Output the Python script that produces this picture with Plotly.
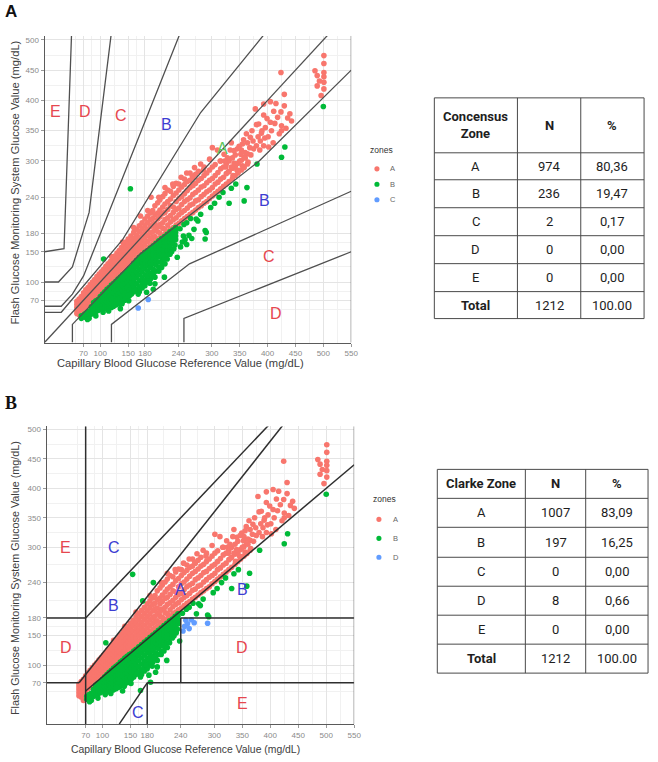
import plotly.graph_objects as go

W, H = 658, 762

# ---------------- data (mg/dL) ----------------
# Group key: first letter = Parkes (consensus) zone, second letter = Clarke zone
# Dense red band, read column by column: reference value -> measured values
AA_col_ref = [58, 62, 66, 70, 74, 78, 82, 86, 90, 94,
              98, 102, 106, 110, 114, 118, 122, 126, 130, 134,
              138, 142, 146, 150, 155, 160, 165, 170, 175, 180,
              185, 190, 194, 198, 203, 207, 212, 216, 221, 226,
              231, 236, 241, 246, 251, 256, 261, 266, 271, 276,
              281, 286, 291, 296, 301, 306, 311, 316, 321, 326,
              331, 337, 342, 347, 353, 358, 364]
AA_col_meas = [
    [48, 53, 58, 63, 68], [46, 51, 56, 61, 66, 72], [49, 54, 59, 64, 69, 76],
    [57, 62, 67, 72, 77, 82], [60, 65, 70, 76, 81, 87], [63, 68, 74, 80, 85, 91],
    [66, 72, 78, 84, 90, 96], [69, 75, 81, 88, 94, 100], [73, 79, 85, 92, 98, 104],
    [76, 82, 89, 95, 102, 109],
    [79, 86, 92, 99, 106, 113], [82, 89, 96, 103, 110, 117], [85, 92, 100, 107, 114, 121],
    [89, 96, 103, 111, 118, 126], [92, 99, 107, 115, 122, 130], [96, 103, 111, 119, 126, 134],
    [100, 107, 115, 123, 131, 139], [103, 111, 119, 127, 135, 143], [107, 115, 123, 131, 139, 148],
    [111, 119, 127, 135, 144, 152],
    [115, 123, 131, 140, 148, 157], [119, 127, 135, 144, 153, 161], [123, 131, 139, 148, 157, 166],
    [127, 135, 144, 153, 162, 171], [131, 140, 149, 158, 167, 176], [136, 145, 154, 163, 172, 182],
    [141, 150, 159, 168, 177, 187], [146, 155, 164, 173, 183, 193], [150, 159, 168, 178, 188, 198],
    [153, 163, 173, 183, 193, 204],
    [157, 167, 177, 187, 198, 209], [160, 171, 181, 192, 203, 214], [163, 174, 183, 195, 205, 218],
    [166, 175, 188, 197, 211, 226], [170, 183, 191, 204, 214, 231], [173, 181, 195, 208, 219, 236],
    [176, 189, 198, 213, 224, 241], [179, 187, 203, 215, 229, 246], [183, 194, 206, 220, 233, 252],
    [187, 199, 210, 226, 237, 250],
    [190, 203, 215, 224, 243, 258], [194, 206, 220, 233, 247, 263], [197, 211, 222, 238, 252, 262],
    [201, 215, 228, 241, 257], [205, 218, 233, 246, 261, 270], [208, 222, 236, 251, 266],
    [212, 227, 239, 256, 268, 280], [215, 229, 245, 259, 273], [219, 234, 248, 263, 278],
    [223, 236, 252, 268, 283],
    [226, 241, 257, 271], [230, 245, 259, 276, 290], [233, 249, 264, 280], [238, 252, 268, 285],
    [242, 256, 271, 290], [246, 262, 276, 294], [250, 265, 281], [254, 270, 287, 300],
    [258, 273, 290], [262, 279, 295],
    [266, 283, 300], [271, 288, 305], [276, 291, 310], [280, 296], [285, 301, 318],
    [289, 306], [295, 312, 330],
]
# Scattered red points
AA_ref_extra = [216, 245, 269, 296, 322, 352, 301, 230, 255, 280,
                310, 335, 340, 349, 355, 360, 369, 372, 378, 384,
                387, 390, 393, 393, 393, 399, 402, 405, 411, 424,
                424, 425, 425, 430, 430, 433, 443, 485, 489, 489,
                496, 501, 501, 501, 501, 501, 501, 493, 330, 335,
                340, 345, 350, 355, 360, 338, 348, 357, 365, 370,
                375, 380, 205, 185, 160, 140, 120, 315, 325, 285,
                265, 368, 374, 383, 389, 396, 401, 407, 413, 418,
                421, 436, 440, 415, 405, 380, 362, 357, 346, 333,
                328, 323, 410, 395, 386]
AA_meas_extra = [256, 273, 289, 303, 311, 311, 322, 262, 280, 295,
                 318, 330, 317, 324, 328, 314, 339, 350, 386, 361,
                 333, 350, 325, 376, 394, 370, 323, 364, 382, 381,
                 446, 350, 358, 391, 410, 354, 366, 449, 441, 424,
                 408, 474, 461, 446, 439, 430, 419, 432, 282, 290,
                 296, 285, 300, 292, 305, 276, 284, 290, 298, 310,
                 320, 325, 240, 218, 190, 166, 142, 300, 290, 285,
                 275, 322, 333, 340, 346, 355, 340, 350, 362, 372,
                 345, 371, 378, 395, 398, 360, 345, 335, 320, 318,
                 305, 300, 330, 338, 318]
AB_ref = [191, 172]
AB_meas = [240, 209]
BA_ref = [66, 66, 152, 160, 165, 170, 175, 180, 185, 190,
          195, 200, 205, 210, 215, 220, 225, 230, 235]
BA_meas = [40, 44, 122, 131, 136, 141, 145, 149, 152, 156,
           160, 164, 168, 172, 175, 179, 183, 186, 190]
# Dense green area, read column by column
BB_col_ref = [72, 76, 80, 84, 88, 92, 96, 100, 104, 108,
              112, 116, 120, 124, 128, 132, 136, 140, 144, 148,
              152, 156, 160, 165, 170, 175, 180, 185, 190, 195,
              200, 205, 210, 215, 220, 225, 230, 235]
BB_col_meas = [
    [42, 47], [44, 50], [40, 46, 52], [47, 53, 59], [49, 55, 61, 66],
    [51, 57, 63, 69], [53, 59, 65, 71], [55, 61, 67, 72, 76], [57, 63, 69, 75, 80],
    [59, 65, 71, 78, 84],
    [55, 61, 67, 74, 81, 88], [57, 63, 70, 77, 84, 91], [58, 65, 72, 79, 87, 95],
    [60, 67, 74, 82, 90, 98], [62, 69, 77, 85, 93, 101], [64, 71, 79, 88, 96, 105],
    [66, 74, 82, 91, 100, 108], [68, 76, 85, 94, 103, 112], [70, 79, 88, 97, 106, 115],
    [73, 82, 91, 100, 110, 118],
    [77, 86, 95, 104, 113, 120], [80, 89, 98, 107, 116, 124], [84, 93, 102, 111, 120, 127],
    [88, 97, 107, 116, 125, 131], [84, 92, 102, 112, 121, 130, 135],
    [90, 98, 107, 117, 126, 134, 139], [94, 103, 112, 122, 131, 138, 143],
    [100, 108, 118, 127, 135, 142, 147], [105, 115, 124, 132, 140, 147, 151],
    [112, 121, 130, 138, 145, 151, 155],
    [118, 128, 136, 143, 150, 156, 159], [124, 133, 142, 149, 155, 160, 163],
    [132, 140, 148, 155, 161, 167], [138, 146, 154, 160, 166, 171],
    [145, 152, 160, 166, 172, 175], [152, 159, 166, 172, 178], [164, 171, 177, 183],
    [170, 176, 182, 187],
]
BB_ref_extra = [77, 105, 92, 115, 125, 136, 139, 145, 151, 150,
                162, 168, 172, 178, 183, 185, 189, 195, 198, 198,
                205, 215, 216, 210, 192, 220, 225, 228, 232, 238,
                234, 243, 250, 255, 262, 268, 272, 275, 280, 288,
                290, 298, 305, 313, 320, 331, 335, 343, 358, 363,
                381, 425, 431, 500, 106, 154]
BB_meas_extra = [38, 50, 44, 52, 62, 56, 64, 72, 69, 78,
                 86, 80, 91, 100, 83, 110, 98, 88, 97, 108,
                 118, 108, 130, 124, 113, 138, 146, 150, 155, 141,
                 161, 188, 195, 198, 205, 187, 204, 201, 212, 185,
                 182, 223, 230, 240, 248, 230, 255, 262, 234, 256,
                 295, 306, 323, 390, 138, 254]
BD_ref = [244, 247, 249, 252, 255, 259, 264, 288]
BD_meas = [158, 166, 176, 170, 162, 177, 172, 171]
CB_ref = [168, 186]
CB_meas = [57, 71]

x_ticks = [70, 100, 150, 180, 240, 300, 350, 400, 450, 500, 550]
y_ticks = [70, 100, 150, 180, 240, 300, 350, 400, 450, 500]
minor_ticks = [55, 85, 125, 165, 210, 270, 325, 375, 425, 475, 525]
zone_colors = {"A": "#F8766D", "B": "#00BA38", "C": "#619CFF", "D": "#619CFF"}

# Parkes (consensus) type 1 error grid boundaries
parkes_lines = [
    ([0, 550], [0, 550]),
    ([0, 30, 140, 280, 430], [50, 50, 170, 380, 550]),
    ([50, 50, 170, 385, 550], [0, 30, 145, 300, 450]),
    ([0, 30, 50, 70, 260], [60, 60, 80, 110, 550]),
    ([120, 120, 260, 550], [0, 30, 130, 250]),
    ([0, 25, 50, 80, 125], [100, 100, 125, 215, 550]),
    ([250, 250, 550], [0, 40, 150]),
    ([0, 35, 50], [150, 155, 550]),
]
# Clarke error grid boundaries
clarke_lines = [
    ([0, 58.3], [70, 70]),
    ([58.3, 458.3], [70, 550]),
    ([70, 70], [0, 550]),
    ([0, 70], [180, 180]),
    ([70, 440], [180, 550]),
    ([70, 550], [56, 440]),
    ([130, 180], [0, 70]),
    ([180, 180], [0, 70]),
    ([180, 550], [70, 70]),
    ([240, 240], [70, 180]),
    ([240, 550], [180, 180]),
]

RED_T, BLUE_T, GREEN_T = "#E6474F", "#3C3CD2", "#5CC65C"
parkes_lab_text = ["E", "D", "C", "B", "A", "B", "C", "D"]
parkes_lab_x = [19, 72, 138, 219, 320, 394, 403, 415]
parkes_lab_y = [381, 381, 375, 360, 320, 234, 142, 48]
parkes_lab_col = [RED_T, RED_T, RED_T, BLUE_T, GREEN_T, BLUE_T, RED_T, RED_T]
clarke_lab_text = ["E", "C", "B", "A", "B", "D", "D", "C", "E"]
clarke_lab_x = [34, 120, 120, 240, 350, 34, 350, 163, 350]
clarke_lab_y = [300, 300, 202, 229, 229, 130, 130, 20, 35]
clarke_lab_col = [RED_T, BLUE_T, BLUE_T, BLUE_T, BLUE_T, RED_T, RED_T, BLUE_T, RED_T]

tabA_header = ["Concensus<br>Zone", "N", "%"]
tabB_header = ["Clarke Zone", "N", "%"]
tab_zone = ["A", "B", "C", "D", "E", "Total"]
tabA_N = ["974", "236", "2", "0", "0", "1212"]
tabA_pct = ["80,36", "19,47", "0,17", "0,00", "0,00", "100.00"]
tabB_N = ["1007", "197", "0", "8", "0", "1212"]
tabB_pct = ["83,09", "16,25", "0,00", "0,66", "0,00", "100.00"]
legendA_labels = ["A", "B", "C"]
legendB_labels = ["A", "B", "D"]

# ---------------- build point table ----------------
def flatten(col_ref, col_meas):
    xs, ys = [], []
    for r, ms in zip(col_ref, col_meas):
        for m in ms:
            xs.append(r)
            ys.append(m)
    return xs, ys

assert len(AA_col_ref) == len(AA_col_meas)
assert len(BB_col_ref) == len(BB_col_meas)
assert len(AA_ref_extra) == len(AA_meas_extra)
assert len(BB_ref_extra) == len(BB_meas_extra)

groups = []
ax, ay = flatten(AA_col_ref, AA_col_meas)
groups.append(("A", "A", ax + AA_ref_extra, ay + AA_meas_extra))
groups.append(("A", "B", AB_ref, AB_meas))
groups.append(("B", "A", BA_ref, BA_meas))
bx, by = flatten(BB_col_ref, BB_col_meas)
groups.append(("B", "B", bx + BB_ref_extra, by + BB_meas_extra))
groups.append(("B", "D", BD_ref, BD_meas))
groups.append(("C", "B", CB_ref, CB_meas))

def X(p):
    return p / W

def Y(p):
    return 1 - p / H

fig = go.Figure()

def add_points(panel_idx, zone_order, xa, ya):
    for z in zone_order:
        xs, ys = [], []
        for g in groups:
            if g[panel_idx] == z:
                xs += list(g[2])
                ys += list(g[3])
        fig.add_trace(go.Scatter(x=xs, y=ys, mode="markers", xaxis=xa, yaxis=ya,
                                 marker=dict(size=5.6, color=zone_colors[z], line=dict(width=0)),
                                 showlegend=False, hoverinfo="skip"))

add_points(0, ["A", "B", "C"], "x", "y")
add_points(1, ["A", "B", "D"], "x2", "y2")

for lx, ly in parkes_lines:
    fig.add_trace(go.Scatter(x=lx, y=ly, mode="lines", xaxis="x", yaxis="y",
                             line=dict(color="#505050", width=1.3), showlegend=False, hoverinfo="skip"))
for lx, ly in clarke_lines:
    fig.add_trace(go.Scatter(x=lx, y=ly, mode="lines", xaxis="x2", yaxis="y2",
                             line=dict(color="#2E2E2E", width=1.5), showlegend=False, hoverinfo="skip"))

annotations = []
for t, xx, yy, c in zip(parkes_lab_text, parkes_lab_x, parkes_lab_y, parkes_lab_col):
    annotations.append(dict(text=t, x=xx, y=yy, xref="x", yref="y", showarrow=False,
                            font=dict(family="Liberation Sans", size=16, color=c)))
for t, xx, yy, c in zip(clarke_lab_text, clarke_lab_x, clarke_lab_y, clarke_lab_col):
    annotations.append(dict(text=t, x=xx, y=yy, xref="x2", yref="y2", showarrow=False,
                            font=dict(family="Liberation Sans", size=16, color=c)))

def paper_text(text, xp, yp, size, color="#333333", family="Liberation Sans", xanchor="center",
               angle=0, bold=False):
    if bold:
        text = "<b>" + text + "</b>"
    annotations.append(dict(text=text, x=X(xp), y=Y(yp), xref="paper", yref="paper",
                            showarrow=False, xanchor=xanchor, yanchor="middle", textangle=angle,
                            font=dict(family=family, size=size, color=color)))

# panel letters
paper_text("A", 3, 11, 17, color="#111111", xanchor="left", bold=True)
paper_text("B", 3, 403, 18, color="#111111", family="Liberation Serif", xanchor="left", bold=True)

# axis titles
xt = "Capillary Blood Glucose Reference Value (mg/dL)"
yt = "Flash Glucose Monitoring System Glucose Value (mg/dL)"
paper_text(xt, 182, 362, 11.2, color="#404040")
paper_text(xt, 187, 749, 10.4, color="#404040")
paper_text(yt, 15, 182, 11.2, color="#404040", angle=-90)
paper_text(yt, 15, 578, 10.8, color="#404040", angle=-90)

shapes = []

# legends
def legend(title_x, title_y, dot_x, label_x, ys, labels, zone_keys):
    paper_text("zones", title_x, title_y, 8.5, color="#333333", xanchor="left")
    for yy, lab, z in zip(ys, labels, zone_keys):
        r = 2.6
        shapes.append(dict(type="circle", xref="paper", yref="paper",
                           x0=X(dot_x - r), x1=X(dot_x + r), y0=Y(yy + r), y1=Y(yy - r),
                           fillcolor=zone_colors[z], line=dict(width=0)))
        paper_text(lab, label_x, yy, 7.5, color="#666666")

legend(372, 149, 381, 397, [168, 183.5, 199], legendA_labels, legendA_labels)
legend(375, 499, 383, 400, [519, 538, 557], legendB_labels, legendB_labels)

# tables
def table(cols, rows, header, zones, ns, pcts):
    for c in cols:
        shapes.append(dict(type="line", xref="paper", yref="paper", x0=X(c), x1=X(c),
                           y0=Y(rows[0]), y1=Y(rows[-1]), line=dict(color="#4A4A4A", width=1)))
    for r in rows:
        shapes.append(dict(type="line", xref="paper", yref="paper", x0=X(cols[0]), x1=X(cols[-1]),
                           y0=Y(r), y1=Y(r), line=dict(color="#4A4A4A", width=1)))
    cx = [(cols[i] + cols[i + 1]) / 2 for i in range(3)]
    hy = (rows[0] + rows[1]) / 2
    for i, h in enumerate(header):
        paper_text(h, cx[i], hy, 13, color="#1E1E1E", family="Roboto", bold=True)
    for j in range(len(zones)):
        ry = (rows[j + 1] + rows[j + 2]) / 2
        bold = zones[j] == "Total"
        paper_text(zones[j], cx[0], ry, 13, color="#1E1E1E", family="Roboto", bold=bold)
        paper_text(ns[j], cx[1], ry, 13, color="#1E1E1E", family="Roboto")
        paper_text(pcts[j], cx[2], ry, 13, color="#1E1E1E", family="Roboto")

table([439, 523, 587, 651], [97, 152, 179, 207, 235, 263, 291, 318], tabA_header, tab_zone, tabA_N, tabA_pct)
table([442, 531, 592, 655], [469, 498, 527, 557, 586, 615, 644, 673], tabB_header, tab_zone, tabB_N, tabB_pct)

# right panel borders at x = 550
for xa in ["x", "x2"]:
    ya = "y" if xa == "x" else "y2"
    shapes.append(dict(type="line", xref=xa, yref=ya + " domain", x0=550, x1=550, y0=0, y1=1,
                       line=dict(color="#5A5A5A", width=1)))

def axis(domain, rng, ticks, anchor):
    return dict(domain=domain, range=rng, tickmode="array", tickvals=ticks,
                ticktext=[str(v) for v in ticks], ticks="outside", ticklen=3, tickwidth=1,
                tickcolor="#9A9A9A", tickfont=dict(family="Liberation Sans", size=8, color="#8A8A8A"),
                showgrid=True, gridcolor="#E4E4E4", gridwidth=0.8,
                minor=dict(tickmode="array", tickvals=minor_ticks, showgrid=True,
                           gridcolor="#F1F1F1", gridwidth=0.6),
                showline=True, linecolor="#5A5A5A", linewidth=1, zeroline=False,
                anchor=anchor, fixedrange=True)

fig.update_layout(
    width=W, height=H, margin=dict(l=0, r=0, t=0, b=0),
    paper_bgcolor="white", plot_bgcolor="white", showlegend=False, hovermode=False,
    xaxis=axis([X(45), X(355)], [0, 550], x_ticks, "y"),
    yaxis=axis([Y(342), Y(35)], [0, 506.5], y_ticks, "x"),
    xaxis2=axis([X(47), X(358)], [0, 550], x_ticks, "y2"),
    yaxis2=axis([Y(724), Y(426)], [0, 505], y_ticks, "x2"),
    annotations=annotations, shapes=shapes,
)

fig.write_html("out.html", config={"displayModeBar": False},
               post_script="document.body.style.margin='0px';document.body.style.overflow='hidden';")
